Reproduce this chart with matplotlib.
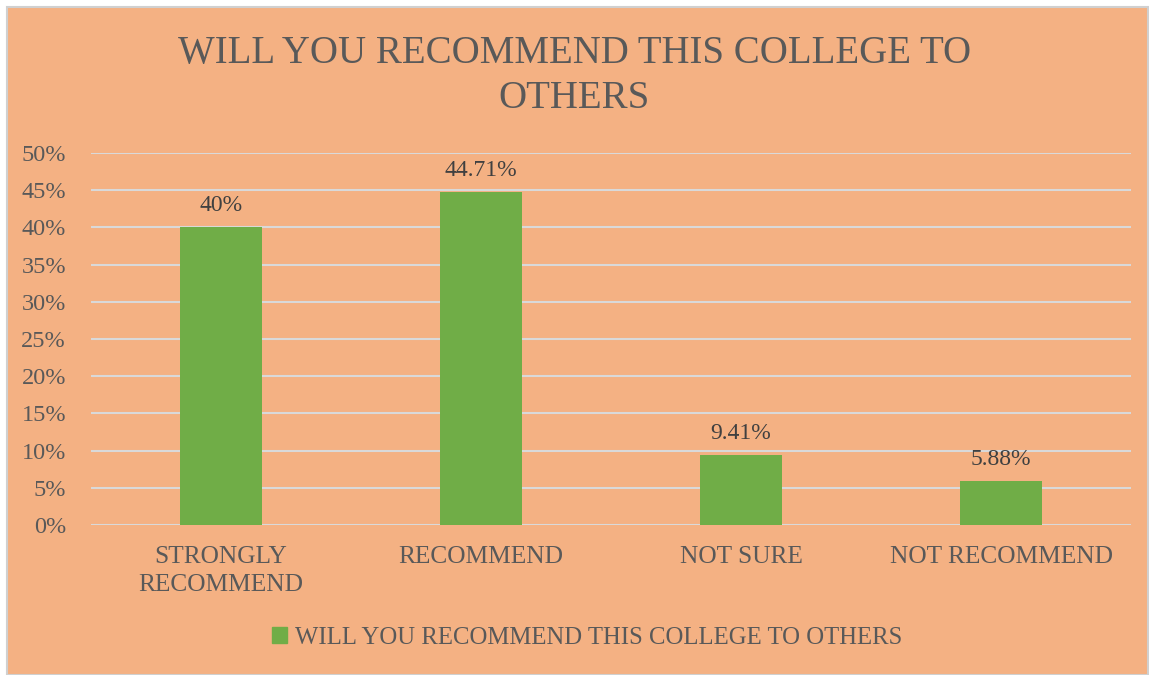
import matplotlib.pyplot as plt
import matplotlib.patches as mpatches
from matplotlib.ticker import FuncFormatter

categories = ['STRONGLY\nRECOMMEND', 'RECOMMEND', 'NOT SURE', 'NOT RECOMMEND']
values = [40.0, 44.71, 9.41, 5.88]
labels = ['40%', '44.71%', '9.41%', '5.88%']
yticks = [0, 5, 10, 15, 20, 25, 30, 35, 40, 45, 50]
series_name = 'WILL YOU RECOMMEND THIS COLLEGE TO OTHERS'

bg = '#F4B183'
green = '#70AD47'
txt = '#595959'
grid = '#D9D9D9'

plt.rcParams['font.family'] = ['Liberation Serif', 'DejaVu Serif']

fig = plt.figure(figsize=(11.49, 6.75), dpi=100)
fig.patch.set_facecolor('white')
# chart area with thin gray border
frame = mpatches.Rectangle((7 / 1149, 0.0), 1 - 7 / 1149 - 0.0005, 1 - 7 / 675,
                           transform=fig.transFigure, facecolor=bg,
                           edgecolor='#D0D0D0', linewidth=1.5, zorder=-5)
fig.patches.append(frame)

ax = fig.add_axes([91 / 1149, 1 - 525 / 675, (1131 - 91) / 1149, (525 - 153) / 675])
ax.set_facecolor('none')
x = range(len(categories))
ax.bar(x, values, width=0.315, color=green, zorder=3)
for xi, v, lab in zip(x, values, labels):
    ax.annotate(lab, (xi, v), xytext=(0, 8), textcoords='offset points',
                ha='center', va='bottom', fontsize=17, color='#404040')

ax.set_xlim(-0.5, 3.5)
ax.set_ylim(0, 50)
ax.set_yticks(yticks)
ax.yaxis.set_major_formatter(FuncFormatter(lambda v, p: '%d%%' % v))
ax.set_xticks(list(x))
ax.set_xticklabels(categories, linespacing=1.35)
ax.tick_params(axis='both', length=0, labelsize=17.5, colors=txt)
ax.tick_params(axis='x', labelsize=18.3, pad=15)
ax.tick_params(axis='y', pad=18)
ax.grid(axis='y', color=grid, linewidth=1.5, zorder=0)
for s in ax.spines.values():
    s.set_visible(False)

fig.text(0.5, 1 - 76 / 675, 'WILL YOU RECOMMEND THIS COLLEGE TO\nOTHERS',
         ha='center', va='center', fontsize=28, color=txt, linespacing=1.3)

handle = mpatches.Patch(color=green, label=series_name)
leg = fig.legend(handles=[handle], loc='center', bbox_to_anchor=(0.511, 1 - 638 / 675),
                 frameon=False, fontsize=17.8, handlelength=0.6, handleheight=0.6,
                 handletextpad=0.3, labelcolor=txt)

fig.savefig('out.png', dpi=100)
